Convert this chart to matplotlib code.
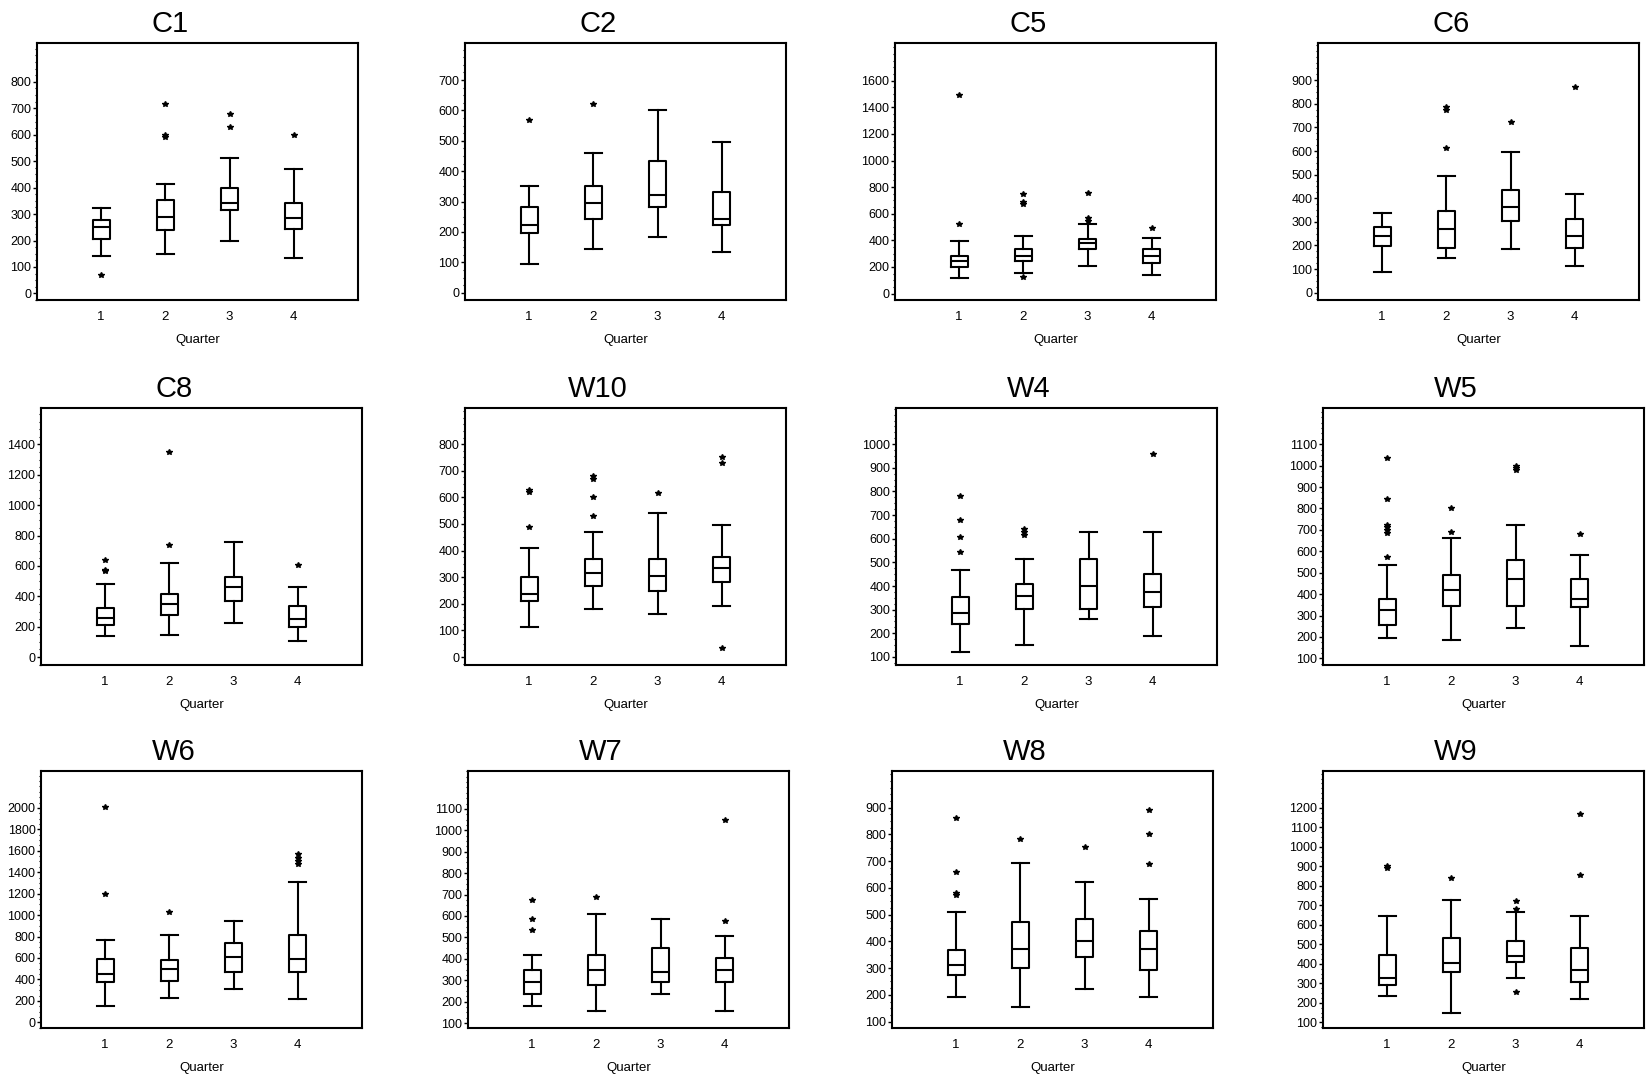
import matplotlib
matplotlib.use("Agg")
import matplotlib.pyplot as plt
from matplotlib.ticker import AutoMinorLocator

plt.rcParams['font.family'] = ['Liberation Sans', 'DejaVu Sans']

# Data: per quarter [whisker low, Q1, median, Q3, whisker high]
quarters = [1, 2, 3, 4]

C1_STATS = [[140, 207, 252, 278, 322], [150, 238, 290, 355, 412], [200, 315, 340, 400, 513], [132, 245, 285, 340, 470]]
C1_OUT = [[70], [590, 600, 718], [628, 680], [600]]

C2_STATS = [[95, 195, 222, 283, 350], [145, 243, 295, 350, 460], [183, 283, 322, 432, 600], [133, 222, 243, 333, 495]]
C2_OUT = [[570], [620], [], []]

C5_STATS = [[117, 202, 245, 282, 397], [155, 242, 285, 332, 435], [205, 332, 380, 410, 525], [140, 227, 282, 332, 420]]
C5_OUT = [[525, 1492], [125, 670, 690, 750], [545, 570, 757], [495]]

C6_STATS = [[89, 197, 240, 278, 336], [147, 189, 269, 348, 494], [183, 305, 362, 434, 598], [111, 189, 241, 312, 420]]
C6_OUT = [[], [611, 776, 786], [722], [872]]

C8_STATS = [[136, 212, 260, 326, 481], [147, 280, 350, 416, 617], [225, 372, 459, 525, 759], [103, 201, 252, 337, 459]]
C8_OUT = [[565, 575, 639], [737, 1348], [], [608]]

W10_STATS = [[111, 211, 238, 300, 408], [180, 268, 315, 370, 471], [161, 250, 306, 370, 543], [193, 281, 333, 376, 498]]
W10_OUT = [[490, 621, 628], [530, 600, 671, 680], [618], [33, 728, 750]]

W4_STATS = [[122, 238, 287, 352, 466], [152, 302, 359, 408, 515], [260, 302, 402, 515, 630], [187, 310, 373, 453, 630]]
W4_OUT = [[546, 609, 679, 781], [616, 630, 640], [], [958]]

W5_STATS = [[196, 257, 324, 376, 535], [187, 344, 417, 487, 661], [244, 344, 472, 559, 725], [156, 338, 376, 472, 584]]
W5_OUT = [[572, 684, 699, 715, 723, 842, 1036], [692, 803], [979, 990, 999], [682]]

W6_STATS = [[150, 372, 451, 595, 770], [228, 388, 501, 582, 817], [307, 466, 613, 739, 942], [213, 466, 595, 817, 1308]]
W6_OUT = [[1196, 2006], [1033], [], [1480, 1505, 1537, 1574]]

W7_STATS = [[181, 236, 292, 348, 417], [158, 277, 350, 417, 611], [236, 292, 339, 450, 584], [158, 292, 350, 403, 506]]
W7_OUT = [[536, 584, 677], [689], [], [578, 1047]]

W8_STATS = [[191, 273, 313, 369, 509], [154, 299, 370, 472, 693], [223, 343, 402, 484, 623], [191, 293, 370, 439, 559]]
W8_OUT = [[573, 581, 661, 861], [781], [751], [691, 800, 892]]

W9_STATS = [[237, 289, 325, 445, 646], [150, 357, 402, 533, 725], [325, 411, 438, 515, 665], [220, 308, 369, 481, 646]]
W9_OUT = [[889, 903], [841], [256, 683, 723], [855, 1171]]

names = ['C1', 'C2', 'C5', 'C6', 'C8', 'W10', 'W4', 'W5', 'W6', 'W7', 'W8', 'W9']
all_stats = [C1_STATS, C2_STATS, C5_STATS, C6_STATS, C8_STATS, W10_STATS,
             W4_STATS, W5_STATS, W6_STATS, W7_STATS, W8_STATS, W9_STATS]
all_out = [C1_OUT, C2_OUT, C5_OUT, C6_OUT, C8_OUT, W10_OUT,
           W4_OUT, W5_OUT, W6_OUT, W7_OUT, W8_OUT, W9_OUT]

# axis ranges and tick spacing per panel (start, stop, step)
ylims = [(-25, 947), (-24, 822), (-48, 1883), (-31, 1058),
         (-52, 1639), (-30, 936), (66, 1153), (69, 1269),
         (-53, 2344), (77, 1277), (76, 1037), (71, 1389)]
yticks = [(0, 800, 100), (0, 700, 100), (0, 1600, 200), (0, 900, 100),
          (0, 1400, 200), (0, 800, 100), (100, 1000, 100), (100, 1100, 100),
          (0, 2000, 200), (100, 1100, 100), (100, 900, 100), (100, 1200, 100)]

# frame placement in pixels (left edge, bottom edge)
W, H = 1646, 1077
lefts = [37, 465, 895, 1318, 41, 465, 896, 1323, 41, 468, 892, 1323]
bottoms = [300, 300, 300, 300, 665, 665, 665, 665, 1028, 1028, 1028, 1028]
aw, ah = 321, 257

fig = plt.figure(figsize=(W / 100, H / 100), dpi=100)

line = dict(color='black', linewidth=1.5)
for i, name in enumerate(names):
    ax = fig.add_axes([lefts[i] / W, (H - bottoms[i]) / H, aw / W, ah / H])
    stats = []
    for s, f in zip(all_stats[i], all_out[i]):
        stats.append(dict(whislo=s[0], q1=s[1], med=s[2], q3=s[3], whishi=s[4], fliers=f))
    ax.bxp(stats, positions=quarters, widths=0.27, capwidths=0.27,
           boxprops=line, whiskerprops=line, capprops=line, medianprops=line,
           flierprops=dict(marker='*', markersize=4, markerfacecolor='black',
                           markeredgecolor='black', linestyle='none'))
    ax.set_xlim(0, 5)
    ax.set_ylim(*ylims[i])
    a, b, st = yticks[i]
    ax.set_yticks(range(a, b + 1, st))
    ax.yaxis.set_minor_locator(AutoMinorLocator(4))
    ax.tick_params(axis='y', which='major', length=3, width=1, labelsize=9, pad=1)
    ax.tick_params(axis='y', which='minor', length=1.5, width=0.8)
    ax.tick_params(axis='x', length=0, labelsize=9.5, pad=8)
    for sp in ax.spines.values():
        sp.set_linewidth(1.5)
    ax.set_xlabel('Quarter', fontsize=9.5, labelpad=8)
    ax.set_title(name, fontsize=21, x=0.414, pad=8)

fig.savefig('out.png', dpi=100)
